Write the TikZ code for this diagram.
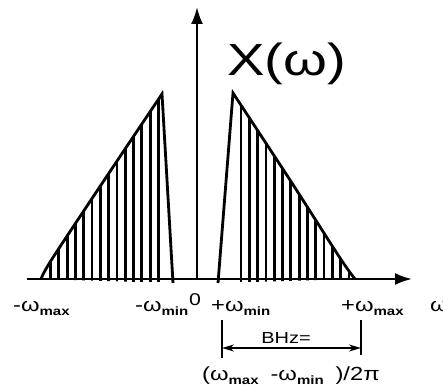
\documentclass[tikz,border=0pt]{standalone}
\usepackage{fontspec}
\setmainfont{Liberation Sans}[FakeStretch=1.25]
\usetikzlibrary{arrows.meta}
\newcommand\wsub[1]{\raisebox{-0.4ex}{\fontsize{12}{12}\selectfont\bfseries #1}}
\tikzset{
  axis/.style={line width=2.4pt,-{Latex[length=17pt,width=12pt]}},
  edge/.style={line width=2.8pt},
  hatch/.style={line width=2.8pt},
  dim/.style={line width=1.8pt},
  lbl/.style={font=\fontsize{19}{21}\selectfont,inner sep=0pt,anchor=base west},
}
\begin{document}
\begin{tikzpicture}[x=1pt,y=-1pt]
\useasboundingbox (0,0) rectangle (443,385);
% axes
\coordinate (xs) at (27,279);
\coordinate (xe) at (412,279);
\coordinate (ys) at (197,279);
\coordinate (ye) at (197,7);
\draw[axis] (xs) -- (xe);
\draw[axis] (ys) -- (ye);

% negative band
\begin{scope}
\clip plot[smooth] coordinates {(41,279) (52,259) (107,176) (162,94)} -- (173,283) -- cycle;
\foreach \x in {50.5,58.8,...,160} \draw[hatch] (\x,282) -- (\x,90);
\end{scope}
\draw[edge] plot[smooth] coordinates {(41,279) (52,259) (107,176) (162,94)} -- (173,283);

% positive band
\begin{scope}
\clip (218,283) -- plot[smooth] coordinates {(233,93) (290,180) (340,258) (355,279)} -- cycle;
\foreach \x in {241,249.3,...,352} \draw[hatch] (\x,282) -- (\x,90);
\end{scope}
\draw[edge] (218,283) -- plot[smooth] coordinates {(233,93) (290,180) (340,258) (355,279)};

\node[lbl,font=\fontsize{45}{48}\selectfont] (title) at (227,75) {X(ω)};

% axis labels
\node[lbl] (nmax) at (13,311) {-ω\wsub{max}};
\node[lbl] (nmin) at (135,311) {-ω\wsub{min}};
\node[lbl,font=\fontsize{17}{18}\selectfont] (zero) at (189,305) {0};
\node[lbl] (pmin) at (211,311) {+ω\wsub{min}};
\node[lbl] (pmax) at (341,311) {+ω\wsub{max}};
\node[lbl] (om) at (430,311) {ω};

% bandwidth
\coordinate (d1t) at (222,320);
\coordinate (d1b) at (222,358);
\coordinate (d2t) at (361,320);
\coordinate (d2b) at (361,355);
\coordinate (a1) at (222,348);
\coordinate (a2) at (361,348);
\draw[dim] (d1t) -- (d1b);
\draw[dim] (d2t) -- (d2b);
\draw[dim,{Stealth[length=12pt,width=7pt]}-{Stealth[length=12pt,width=7pt]}] (a1) -- (a2);
\node[lbl,anchor=base,font=\fontsize{16}{18}\selectfont] (bhz) at (286,343) {BHz=};
\node[lbl] (bw) at (202,380) {(ω\wsub{max}\; -ω\wsub{min}\; )/2π};
\end{tikzpicture}
\end{document}
